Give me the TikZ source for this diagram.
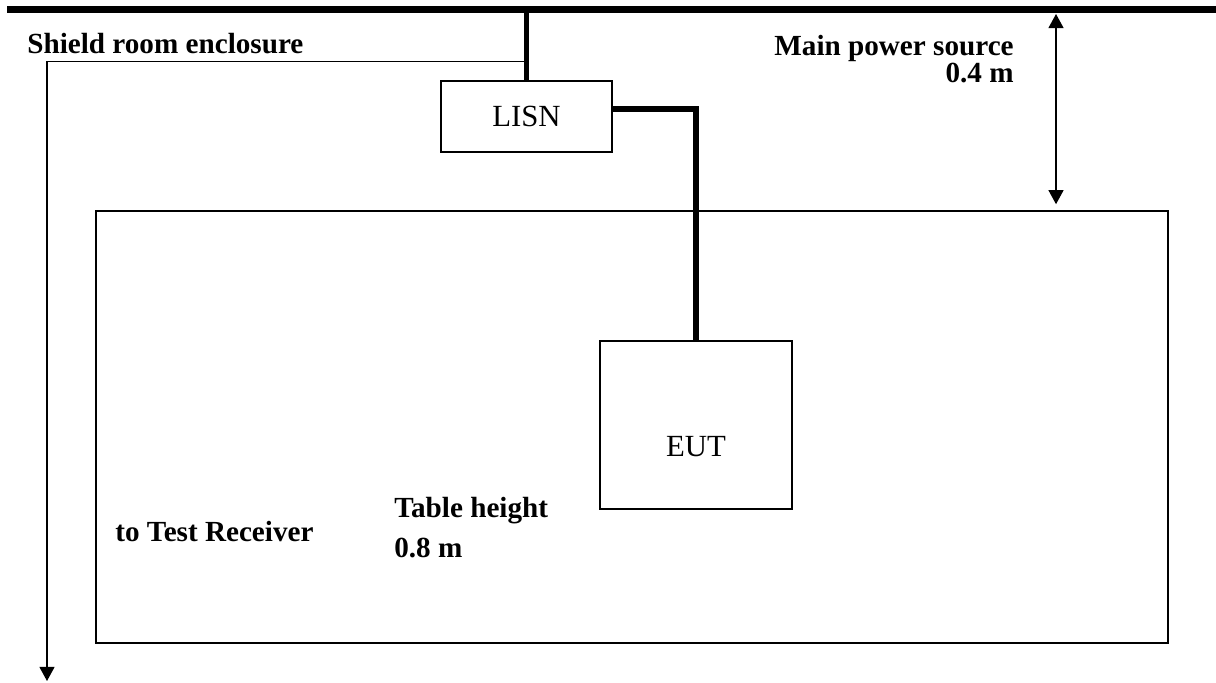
\documentclass[tikz,border=0pt]{standalone}
\usepackage{fontspec}
\setmainfont{Liberation Serif}
\usetikzlibrary{arrows.meta}
\tikzset{
  unit/.style={draw,line width=0.9pt,inner sep=0pt,font=\fontsize{17.5}{20}\selectfont},
  mains/.style={line width=4pt},
  feed/.style={line width=3pt},
  wire/.style={line width=0.8pt},
  tip/.style={-{Triangle[width=8.5pt,length=8pt]}},
  dist/.style={line width=0.8pt,{Triangle[width=8.5pt,length=8pt]}-{Triangle[width=8.5pt,length=8pt]}},
  note/.style={font=\fontsize{16.6}{19}\selectfont\bfseries,inner sep=0pt}
}

\begin{document}
\begin{tikzpicture}[x=0.2mm,y=-0.2mm]
    \useasboundingbox (0,0) rectangle (1216,682);

    \coordinate (barL) at (7,9.5);
    \coordinate (barR) at (1216,9.5);
    \draw[mains] (barL) -- (barR);

    \node[unit,minimum width=34.2mm,minimum height=14.2mm] (lisn) at (526.5,116.5) {LISN};
    \node[unit,minimum width=214.4mm,minimum height=86.4mm] (table) at (632,427) {};
    \node[unit,minimum width=38.4mm,minimum height=33.6mm,
          label={[font=\fontsize{17.5}{20}\selectfont,yshift=-4.4mm]center:EUT}] (eut) at (696,425) {};

    \draw[feed] (lisn.north) -- (lisn.north |- barL);
    \draw[feed] ([yshift=1.5mm]lisn.east) -| (eut.north);

    % line to the receiver
    \coordinate (rcv) at (47,681);
    \draw[wire,tip] ([yshift=3.8mm]lisn.north) -| (rcv);

    \coordinate (src) at (1056,14);
    \draw[dist,shorten >=1.2mm] (src) -- (src |- table.north);

    \node[note,anchor=base west] (shield) at (27,53) {Shield room enclosure};
    \node[note,anchor=base east] (power) at (1014,55) {Main power source};
    \node[note,anchor=base east] (gap) at (1014,82) {0.4 m};
    \node[note,anchor=base west] (recv) at (115,541) {to Test Receiver};
    \node[note,anchor=base west] (theight) at (394,517) {Table height};
    \node[note,anchor=base west] (tval) at (394,557) {0.8 m};
\end{tikzpicture}
\end{document}
